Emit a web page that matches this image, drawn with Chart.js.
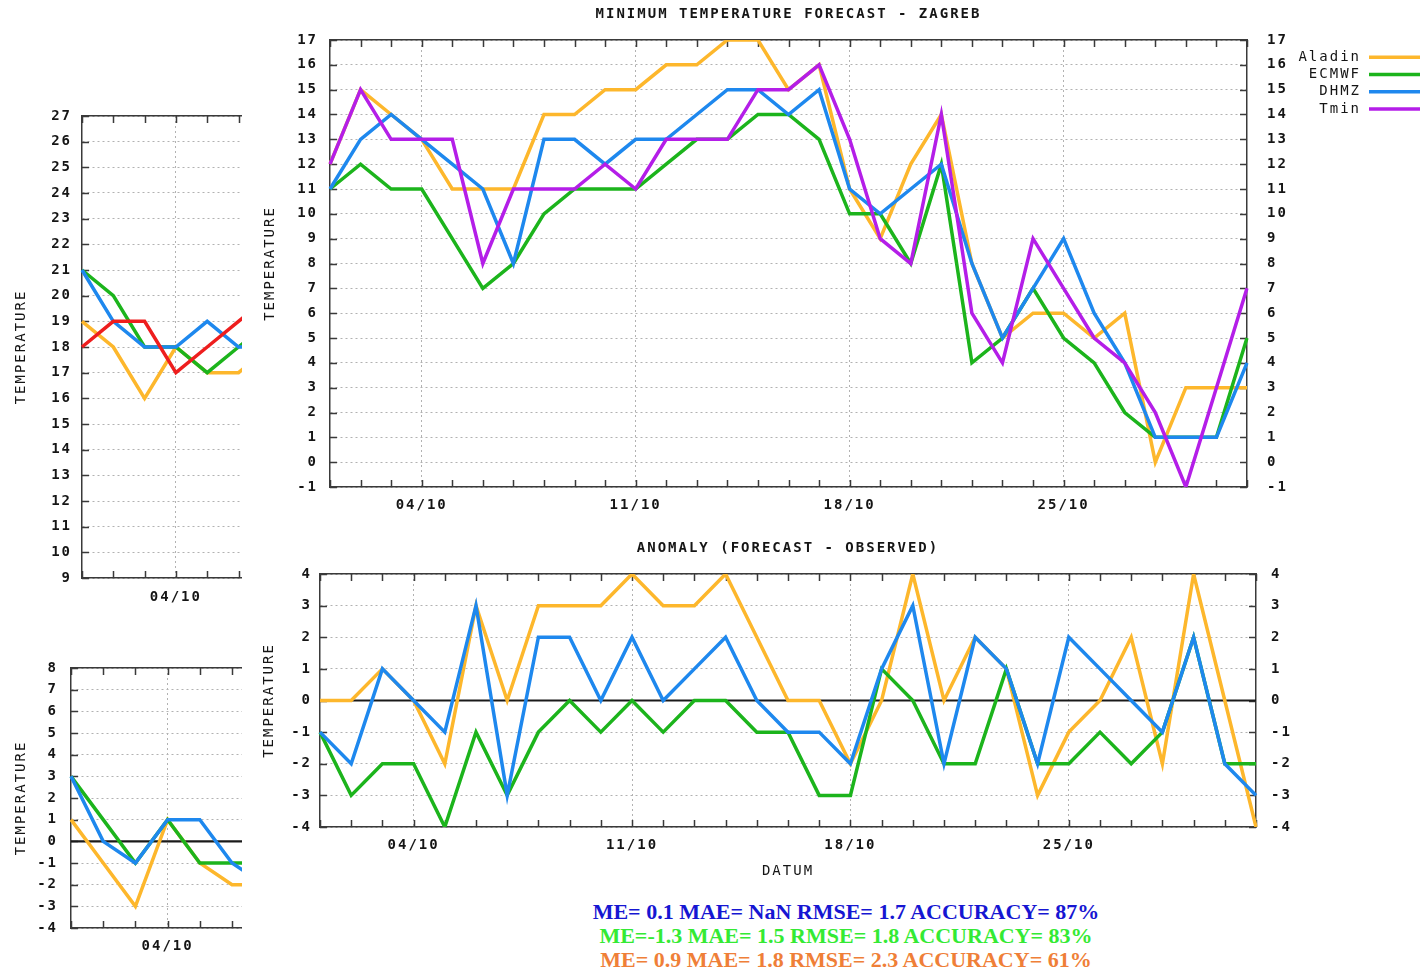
<!DOCTYPE html>
<html><head><meta charset="utf-8">
<script src="https://cdn.jsdelivr.net/npm/chart.js@4.4.1/dist/chart.umd.min.js"></script>
<style>
html,body{margin:0;padding:0;background:#fff;}
body{width:1420px;height:971px;position:relative;overflow:hidden;}
.box{position:absolute;overflow:hidden;}
canvas{display:block;}
#stats{position:absolute;left:546px;width:600px;top:900px;text-align:center;
  font-family:"Liberation Serif","Times New Roman",serif;font-weight:bold;font-size:22px;line-height:24px;white-space:nowrap;}
</style></head><body>
<div class="box" style="left:250px;top:0;width:1170px;height:530px;"><canvas id="main" width="1170" height="530"></canvas></div>
<div class="box" style="left:250px;top:530px;width:1170px;height:360px;"><canvas id="anom" width="1170" height="360"></canvas></div>
<div class="box" style="left:0;top:80px;width:242px;height:540px;"><canvas id="leftTop" width="1100" height="540"></canvas></div>
<div class="box" style="left:0;top:640px;width:242px;height:331px;"><canvas id="leftBot" width="1100" height="331"></canvas></div>
<div id="stats">
  <div style="color:#1616d2">ME= 0.1 MAE= NaN RMSE= 1.7 ACCURACY= 87%</div>
  <div style="color:#34ea34">ME=-1.3 MAE= 1.5 RMSE= 1.8 ACCURACY= 83%</div>
  <div style="color:#ef7f38">ME= 0.9 MAE= 1.8 RMSE= 2.3 ACCURACY= 61%</div>
</div>
<script>
// ---------- data ----------
const days = ['01/10','02/10','03/10','04/10','05/10','06/10','07/10','08/10','09/10','10/10',
  '11/10','12/10','13/10','14/10','15/10','16/10','17/10','18/10','19/10','20/10',
  '21/10','22/10','23/10','24/10','25/10','26/10','27/10','28/10','29/10','30/10','31/10'];
const tickDates = ['04/10','11/10','18/10','25/10'];

// Minimum temperature forecast - Zagreb
const aladin = [12,15,14,13,11,11,11,14,14,15,15,16,16,17,17,15,16,11,9,12,14,8,5,6,6,5,6,0,3,3,3];
const ecmwf  = [11,12,11,11,9,7,8,10,11,11,11,12,13,13,14,14,13,10,10,8,12,4,5,7,5,4,2,1,1,1,5];
const dhmz   = [11,13,14,13,12,11,8,13,13,12,13,13,14,15,15,14,15,11,10,11,12,8,5,7,9,6,4,1,1,1,4];
const tmin   = [12,15,13,13,13,8,11,11,11,12,11,13,13,13,15,15,16,13,9,8,14,6,4,9,7,5,4,2,-1,3,7];

// Anomaly (forecast - observed)
const anomAladin = [0,0,1,0,-2,3,0,3,3,3,4,3,3,4,2,0,0,-2,0,4,0,2,1,-3,-1,0,2,-2,4,0,-4];
const anomEcmwf  = [-1,-3,-2,-2,-4,-1,-3,-1,0,-1,0,-1,0,0,-1,-1,-3,-3,1,0,-2,-2,1,-2,-2,-1,-2,-1,2,-2,-2];
const anomDhmz   = [-1,-2,1,0,-1,3,-3,2,2,0,2,0,1,2,0,-1,-1,-2,1,3,-2,2,1,-2,2,1,0,-1,2,-2,-3];

// Cropped left panels (maximum temperature)
const maxAladin = [19,18,16,18,17,17,18];
const maxEcmwf  = [21,20,18,18,17,18,19];
const maxDhmz   = [21,19,18,18,19,18,18];
const tmax      = [18,19,19,17,18,19,20];
const maxAnomAladin = [1,-1,-3,1,-1,-2,-2];
const maxAnomEcmwf  = [3,1,-1,1,-1,-1,-1];
const maxAnomDhmz   = [3,0,-1,1,1,-1,-2];

// ---------- styles ----------
const FONT = "'DejaVu Sans Mono', monospace";
const TXT = '#151515';
const GRID = '#b2b2b2';
const FRAME = '#3a3a3a';
const C_ALADIN = '#fdb72c', C_ECMWF = '#1cb41c', C_DHMZ = '#1e88ee', C_TMIN = '#b41ee8', C_TMAX = '#ee1e1e';
const LW = 3.5;

function ds(label, data, color, order) {
  return {label, data, borderColor: color, backgroundColor: color, borderWidth: LW,
    pointRadius: 0, pointHoverRadius: 0, tension: 0, fill: false, order};
}

function build(id, o) {
  const W = o.width, H = o.height, A = o.area;
  const font = {family: FONT, size: 14};
  const tickFont = {family: FONT, size: 14, weight: 'bold'};
  const hasTitle = !!o.title;
  const tPadTop = hasTitle ? o.titleY - 8.4 : 0;
  const titleH = hasTitle ? tPadTop + 16.8 : 0;
  const pr = o.rightAxis ? W - (A.left + A.right) : W - A.right;

  const plugin = {
    id: 'custom_' + id,
    beforeUpdate(c) { c.ctx.letterSpacing = '2px'; },
    beforeDraw(c) { c.ctx.letterSpacing = '2px'; },
    beforeDatasetsDraw(c) {
      const ctx = c.ctx, ca = c.chartArea, xs = c.scales.x, ys = c.scales.y;
      ctx.save();
      ctx.strokeStyle = FRAME; ctx.lineWidth = 1.5;
      ctx.beginPath();
      for (let i = 0; i < xs.ticks.length; i++) {
        const px = Math.round(xs.getPixelForTick(i)) + 0.5;
        ctx.moveTo(px, ca.bottom); ctx.lineTo(px, ca.bottom - 7);
        ctx.moveTo(px, ca.top); ctx.lineTo(px, ca.top + 7);
      }
      for (let i = 0; i < ys.ticks.length; i++) {
        const py = Math.round(ys.getPixelForTick(i)) + 0.5;
        ctx.moveTo(ca.left, py); ctx.lineTo(ca.left + 7, py);
        ctx.moveTo(ca.right, py); ctx.lineTo(ca.right - 7, py);
      }
      ctx.stroke();
      if (o.zero) {
        const py = ys.getPixelForValue(0);
        ctx.strokeStyle = '#1a1a1a'; ctx.lineWidth = 2.2;
        ctx.beginPath(); ctx.moveTo(ca.left, py); ctx.lineTo(ca.right, py); ctx.stroke();
      }
      ctx.restore();
    },
    afterDraw(c) {
      if (!o.legend) return;
      const ctx = c.ctx, L = o.legend;
      ctx.save();
      ctx.letterSpacing = '2px';
      ctx.font = '14px ' + FONT;
      ctx.textAlign = 'right'; ctx.textBaseline = 'middle';
      c.data.datasets.forEach((d, i) => {
        const y = L.y + i * L.dy;
        ctx.fillStyle = TXT;
        ctx.fillText(d.label, L.textRight, y);
        ctx.strokeStyle = d.borderColor; ctx.lineWidth = LW;
        ctx.beginPath(); ctx.moveTo(L.x1, y); ctx.lineTo(L.x2, y); ctx.stroke();
      });
      ctx.restore();
    }
  };

  const scales = {
    x: {
      type: 'category', position: 'bottom', offset: false,
      grid: {display: true, drawTicks: false, lineWidth: 1,
        color: (c) => tickDates.includes(days[c.index]) ? GRID : 'rgba(0,0,0,0)'},
      border: {display: true, color: FRAME, width: 1.5, dash: [2, 3]},
      ticks: {autoSkip: false, maxRotation: 0, padding: o.xPad, color: TXT, font: tickFont,
        callback: (v, i) => tickDates.includes(days[i]) ? days[i] : ''},
      title: o.xTitle ? {display: true, text: o.xTitle, color: TXT, font,
        padding: {top: 0, bottom: o.xTitlePad}} : {display: false},
      afterFit: (s) => { s.height = H - A.bottom; }
    },
    x2: {
      type: 'category', position: 'top', offset: false,
      grid: {display: false, drawTicks: false},
      border: {display: true, color: FRAME, width: 1.5},
      ticks: {display: false},
      afterFit: (s) => { s.height = A.top - titleH; }
    },
    y: {
      type: 'linear', position: 'left', min: o.yMin, max: o.yMax,
      grid: {color: GRID, drawTicks: false, lineWidth: 1},
      border: {display: true, color: FRAME, width: 1.5, dash: [2, 3]},
      ticks: {stepSize: 1, autoSkip: false, padding: o.yPad, color: TXT, font: tickFont},
      title: {display: true, text: 'TEMPERATURE', color: TXT, font,
        padding: {top: o.yTitlePad, bottom: 0}},
      afterFit: (s) => { s.width = A.left; }
    }
  };
  if (o.rightAxis) {
    scales.y2 = {
      type: 'linear', position: 'right', min: o.yMin, max: o.yMax,
      grid: {drawOnChartArea: false, drawTicks: false},
      border: {display: true, color: FRAME, width: 1.5},
      ticks: {stepSize: 1, autoSkip: false, padding: o.y2Pad, color: TXT, font: tickFont},
      afterFit: (s) => { s.width = A.left; }
    };
  }

  return new Chart(document.getElementById(id), {
    type: 'line',
    data: {labels: days, datasets: o.datasets},
    options: {
      responsive: false, animation: false, devicePixelRatio: 1,
      events: [],
      layout: {padding: {left: 0, right: pr, top: 0, bottom: 0}},
      plugins: {
        legend: {display: false}, tooltip: {enabled: false},
        title: hasTitle ? {display: true, text: o.title, color: TXT, font,
          padding: {top: tPadTop, bottom: 0}} : {display: false}
      },
      scales
    },
    plugins: [plugin]
  });
}

build('main', {
  width: 1170, height: 530,
  area: {left: 80, right: 997, top: 40, bottom: 487},
  title: 'MINIMUM TEMPERATURE FORECAST - ZAGREB', titleY: 14,
  yMin: -1, yMax: 17, rightAxis: true,
  xPad: 9.6, yPad: 12, y2Pad: 20, yTitlePad: 11.6,
  legend: {textRight: 1111, x1: 1119, x2: 1170, y: 57.3, dy: 17.2},
  datasets: [
    ds('Aladin', aladin, C_ALADIN, 3),
    ds('ECMWF', ecmwf, C_ECMWF, 2),
    ds('DHMZ', dhmz, C_DHMZ, 1),
    ds('Tmin', tmin, C_TMIN, 0)
  ]
});

build('anom', {
  width: 1170, height: 360,
  area: {left: 70, right: 1006, top: 44, bottom: 297},
  title: 'ANOMALY (FORECAST - OBSERVED)', titleY: 18,
  yMin: -4, yMax: 4, rightAxis: true, zero: true,
  xPad: 9.6, yPad: 8, y2Pad: 15, yTitlePad: 10.6,
  xTitle: 'DATUM', xTitlePad: 10.6,
  datasets: [
    ds('Aladin', anomAladin, C_ALADIN, 3),
    ds('ECMWF', anomEcmwf, C_ECMWF, 2),
    ds('DHMZ', anomDhmz, C_DHMZ, 1)
  ]
});

build('leftTop', {
  width: 1100, height: 540,
  area: {left: 82, right: 1021, top: 36, bottom: 498},
  yMin: 9, yMax: 27, rightAxis: false,
  xPad: 10.6, yPad: 10, yTitlePad: 12.6,
  datasets: [
    ds('Aladin', maxAladin, C_ALADIN, 3),
    ds('ECMWF', maxEcmwf, C_ECMWF, 2),
    ds('DHMZ', maxDhmz, C_DHMZ, 1),
    ds('Tmax', tmax, C_TMAX, 0)
  ]
});

build('leftBot', {
  width: 1100, height: 331,
  area: {left: 71, right: 1037, top: 28, bottom: 288},
  yMin: -4, yMax: 8, rightAxis: false, zero: true,
  xPad: 10, yPad: 13, yTitlePad: 12.6,
  datasets: [
    ds('Aladin', maxAnomAladin, C_ALADIN, 3),
    ds('ECMWF', maxAnomEcmwf, C_ECMWF, 2),
    ds('DHMZ', maxAnomDhmz, C_DHMZ, 1)
  ]
});
</script>
</body></html>
